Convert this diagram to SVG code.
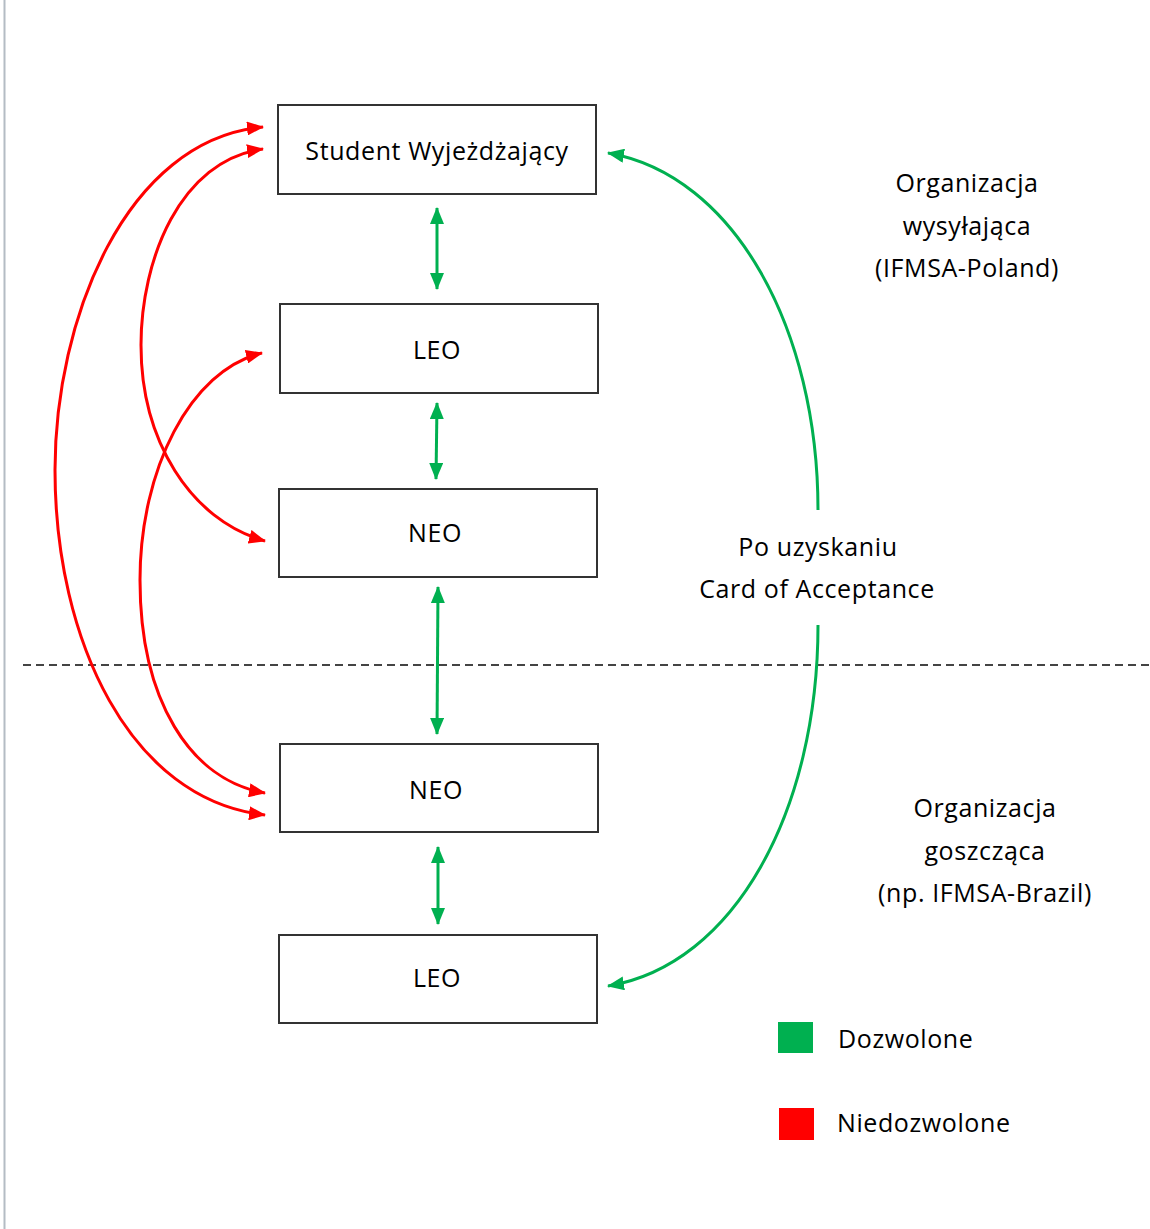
<svg xmlns="http://www.w3.org/2000/svg" width="1150" height="1229" viewBox="0 0 1150 1229">
<style>
.box{fill:#fff;stroke:#333;stroke-width:2}
.t{font-family:"Open Sans","Liberation Sans",sans-serif;font-size:25px;letter-spacing:0.6px;fill:#000;text-anchor:middle}
.g{fill:none;stroke:#00b050;stroke-width:3}
.r{fill:none;stroke:#ff0000;stroke-width:3}
</style>
<defs>
<marker id="ag" markerUnits="userSpaceOnUse" markerWidth="18" markerHeight="14" refX="16" refY="7" orient="auto-start-reverse" viewBox="0 0 18 14"><path d="M0,0 L17,7 L0,14 Z" fill="#00b050"/></marker>
<marker id="ar" markerUnits="userSpaceOnUse" markerWidth="18" markerHeight="14" refX="16" refY="7" orient="auto-start-reverse" viewBox="0 0 18 14"><path d="M0,0 L17,7 L0,14 Z" fill="#ff0000"/></marker>
</defs>
<rect width="1150" height="1229" fill="#fff"/>
<line x1="4.5" y1="0" x2="4.5" y2="1229" stroke="#b4bcc4" stroke-width="2"/>
<line x1="23" y1="665" x2="1150" y2="665" stroke="#444" stroke-width="2" stroke-dasharray="8,5"/>
<g id="connectors">
<path class="g" d="M437,208 L437,289" marker-start="url(#ag)" marker-end="url(#ag)"/>
<path class="g" d="M437,403 L436,479" marker-start="url(#ag)" marker-end="url(#ag)"/>
<path class="g" d="M438,587 L437,734" marker-start="url(#ag)" marker-end="url(#ag)"/>
<path class="g" d="M438,847 L438,924" marker-start="url(#ag)" marker-end="url(#ag)"/>
<path class="g" d="M818,510 C818,330 735,175 608,153" marker-end="url(#ag)"/>
<path class="g" d="M818,625 C818,810 735,965 608,986" marker-end="url(#ag)"/>
<path class="r" d="M263,127 C125,140 55,320 55,470 C55,640 130,800 265,815" marker-start="url(#ar)" marker-end="url(#ar)"/>
<path class="r" d="M263,149 C180,160 141,260 141,345 C141,440 190,520 265,541" marker-start="url(#ar)" marker-end="url(#ar)"/>
<path class="r" d="M262,353 C190,370 140,470 140,580 C140,700 190,780 265,793" marker-start="url(#ar)" marker-end="url(#ar)"/>
</g>
<g id="student"><rect class="box" x="278" y="105" width="318" height="89"/><text class="t" x="437" y="160">Student Wyjeżdżający</text></g>
<g id="leo1"><rect class="box" x="280" y="304" width="318" height="89"/><text class="t" x="437" y="359">LEO</text></g>
<g id="neo1"><rect class="box" x="279" y="489" width="318" height="88"/><text class="t" x="435" y="542">NEO</text></g>
<g id="neo2"><rect class="box" x="280" y="744" width="318" height="88"/><text class="t" x="436" y="799">NEO</text></g>
<g id="leo2"><rect class="box" x="279" y="935" width="318" height="88"/><text class="t" x="437" y="987">LEO</text></g>
<g id="label-sending"><text class="t" x="967" y="192">Organizacja</text><text class="t" x="967" y="235">wysyłająca</text><text class="t" x="967" y="277">(IFMSA-Poland)</text></g>
<g id="label-coa"><text class="t" x="818" y="556">Po uzyskaniu</text><text class="t" x="817" y="598">Card of Acceptance</text></g>
<g id="label-hosting"><text class="t" x="985" y="817">Organizacja</text><text class="t" x="985" y="860">goszcząca</text><text class="t" x="985" y="902">(np. IFMSA-Brazil)</text></g>
<g id="legend">
<rect x="778" y="1022" width="35" height="31" fill="#00b050"/>
<text class="t" x="838" y="1048" style="text-anchor:start">Dozwolone</text>
<rect x="779" y="1108" width="35" height="32" fill="#ff0000"/>
<text class="t" x="837" y="1132" style="text-anchor:start">Niedozwolone</text>
</g>
</svg>
